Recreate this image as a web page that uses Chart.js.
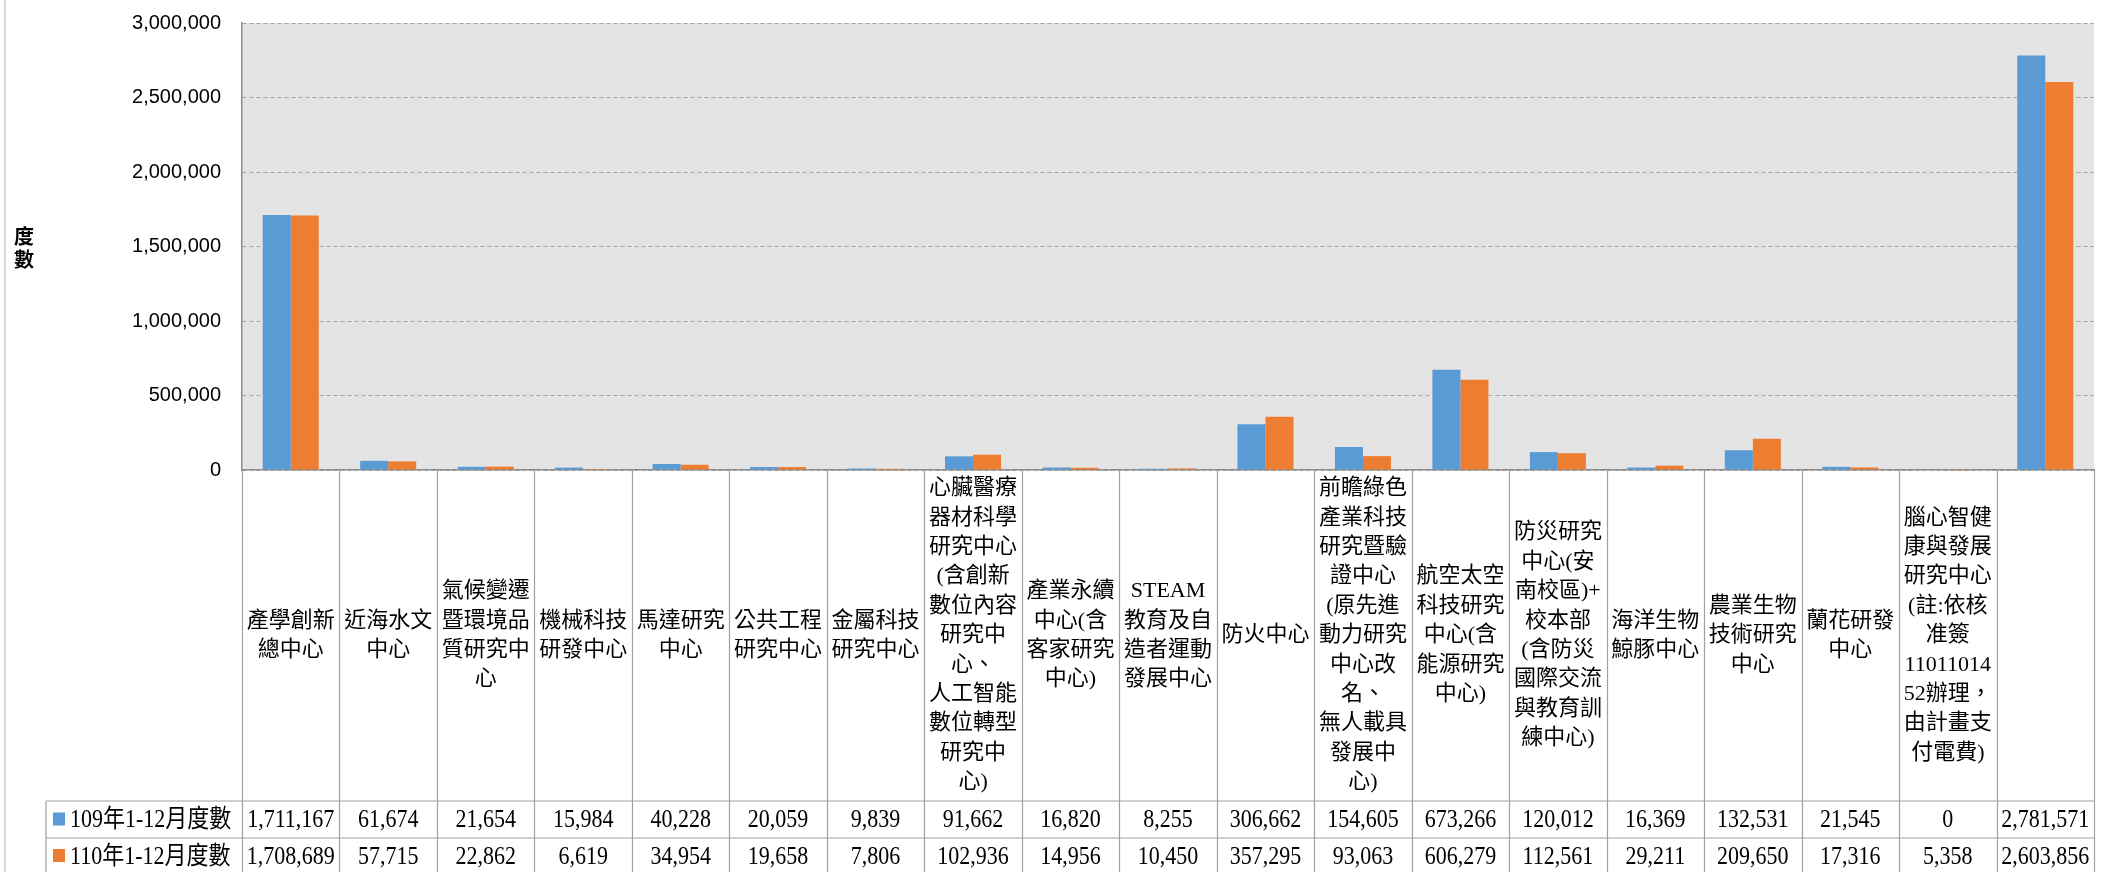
<!DOCTYPE html>
<html>
<head>
<meta charset="utf-8">
<script src="https://cdn.jsdelivr.net/npm/chart.js@4/dist/chart.umd.min.js"></script>
<style>
  html, body { margin: 0; padding: 0; background: #fff; }
  #wrap { width: 2105px; height: 872px; position: relative; }
</style>
</head>
<body>
<div id="wrap"><canvas id="chart" width="2105" height="872"></canvas></div>
<script>
// categories (line breaks as in the data table header)
const categories = [
  '產學創新\n總中心',
  '近海水文\n中心',
  '氣候變遷\n暨環境品\n質研究中\n心',
  '機械科技\n研發中心',
  '馬達研究\n中心',
  '公共工程\n研究中心',
  '金屬科技\n研究中心',
  '心臟醫療\n器材科學\n研究中心\n(含創新\n數位內容\n研究中\n心、\n人工智能\n數位轉型\n研究中\n心)',
  '產業永續\n中心(含\n客家研究\n中心)',
  'STEAM\n教育及自\n造者運動\n發展中心',
  '防火中心',
  '前瞻綠色\n產業科技\n研究暨驗\n證中心\n(原先進\n動力研究\n中心改\n名、\n無人載具\n發展中\n心)',
  '航空太空\n科技研究\n中心(含\n能源研究\n中心)',
  '防災研究\n中心(安\n南校區)+\n校本部\n(含防災\n國際交流\n與教育訓\n練中心)',
  '海洋生物\n鯨豚中心',
  '農業生物\n技術研究\n中心',
  '蘭花研發\n中心',
  '腦心智健\n康與發展\n研究中心\n(註:依核\n准簽\n11011014\n52辦理，\n由計畫支\n付電費)',
  ''
];

const series109Label = '109年1-12月度數';
const series109 = [1711167, 61674, 21654, 15984, 40228, 20059, 9839, 91662, 16820, 8255,
  306662, 154605, 673266, 120012, 16369, 132531, 21545, 0, 2781571];

const series110Label = '110年1-12月度數';
const series110 = [1708689, 57715, 22862, 6619, 34954, 19658, 7806, 102936, 14956, 10450,
  357295, 93063, 606279, 112561, 29211, 209650, 17316, 5358, 2603856];

const yTitle = ['度', '數'];
const yMax = 3000000;
const yStep = 500000;

const BLUE = '#5B9BD5';
const ORANGE = '#ED7D31';
const LINE = '#A0A0A0';

const fmt = (v) => Number(v).toLocaleString('en-US');

// plot background
const bgPlugin = {
  id: 'plotBg',
  beforeDraw(chart) {
    const { ctx, chartArea: a } = chart;
    ctx.save();
    ctx.fillStyle = '#E4E4E4';
    ctx.fillRect(a.left, a.top, a.right - a.left, a.bottom - a.top);
    ctx.restore();
  }
};

// data table under the chart + y title
const tablePlugin = {
  id: 'dataTable',
  afterDraw(chart) {
    const { ctx, chartArea: a } = chart;
    const n = categories.length;
    const colW = (a.right - a.left) / n;
    const H = chart.height;
    const row1 = 801, row2 = 838;
    const legendLeft = 46;

    ctx.save();
    // outer left line of chart object
    ctx.strokeStyle = '#C8C8C8';
    ctx.lineWidth = 1.5;
    ctx.beginPath(); ctx.moveTo(5, 0); ctx.lineTo(5, H); ctx.stroke();

    // grid of the table
    ctx.strokeStyle = LINE;
    ctx.lineWidth = 1.2;
    ctx.beginPath();
    for (let i = 0; i <= n; i++) {
      const x = Math.round(a.left + i * colW) + 0.5;
      ctx.moveTo(x, a.bottom); ctx.lineTo(x, H);
    }
    ctx.moveTo(legendLeft, row1); ctx.lineTo(a.right, row1);
    ctx.moveTo(legendLeft, row2); ctx.lineTo(a.right, row2);
    ctx.moveTo(legendLeft, row1); ctx.lineTo(legendLeft, H);
    ctx.stroke();

    // category headers
    ctx.fillStyle = '#000';
    ctx.textAlign = 'center';
    ctx.textBaseline = 'middle';
    ctx.font = '22px "Liberation Serif", "Noto Sans CJK TC", serif';
    const lh = 29.4;
    const midY = (a.bottom + row1) / 2;
    categories.forEach((c, i) => {
      if (!c) return;
      const lines = c.split('\n');
      const cx = a.left + (i + 0.5) * colW;
      const y0 = midY - (lines.length - 1) * lh / 2;
      lines.forEach((ln, j) => ctx.fillText(ln, cx, y0 + j * lh));
    });

    // values and legend (slightly condensed like the original)
    const sx = 0.88;
    ctx.font = '25px "Liberation Serif", "Noto Sans CJK TC", serif';
    const rows = [
      { label: series109Label, data: series109, color: BLUE, y: (row1 + row2) / 2 + 1 },
      { label: series110Label, data: series110, color: ORANGE, y: row2 + 19 }
    ];
    rows.forEach((r) => {
      r.data.forEach((v, i) => {
        const cx = a.left + (i + 0.5) * colW;
        ctx.save();
        ctx.translate(cx, r.y);
        ctx.scale(sx, 1);
        ctx.textAlign = 'center';
        ctx.fillText(fmt(v), 0, 0);
        ctx.restore();
      });
      ctx.fillStyle = r.color;
      ctx.fillRect(53, r.y - 8, 12, 13);
      ctx.fillStyle = '#000';
      ctx.save();
      ctx.translate(70, r.y);
      ctx.scale(sx, 1);
      ctx.textAlign = 'left';
      ctx.fillText(r.label, 0, 0);
      ctx.restore();
    });

    // y axis title, stacked characters
    ctx.font = 'bold 20px "Noto Sans CJK TC", sans-serif';
    ctx.textAlign = 'center';
    yTitle.forEach((ch, i) => ctx.fillText(ch, 24, 236 + i * 23));
    ctx.restore();
  }
};

new Chart(document.getElementById('chart').getContext('2d'), {
  type: 'bar',
  data: {
    labels: categories,
    datasets: [
      { label: series109Label, data: series109, backgroundColor: BLUE, categoryPercentage: 0.575, barPercentage: 1.0 },
      { label: series110Label, data: series110, backgroundColor: ORANGE, categoryPercentage: 0.575, barPercentage: 1.0 }
    ]
  },
  options: {
    responsive: false,
    animation: false,
    layout: { padding: { left: 0, top: 23, right: 11, bottom: 402 } },
    plugins: { legend: { display: false }, tooltip: { enabled: false } },
    scales: {
      x: {
        ticks: { display: false },
        grid: { display: false, drawTicks: false },
        border: { display: true, color: '#8C8C8C', width: 1.5 },
        afterFit(scale) { scale.height = 0; }
      },
      y: {
        min: 0,
        max: yMax,
        ticks: {
          stepSize: yStep,
          padding: 21,
          color: '#000',
          font: { family: '"Liberation Sans", Arial, sans-serif', size: 20 },
          callback: (v) => fmt(v)
        },
        grid: { color: '#A6A6A6', lineWidth: 1, drawTicks: false },
        border: { display: true, color: '#8C8C8C', width: 1.5, dash: [4, 3] },
        afterFit(scale) {
          scale.width = 242;
          scale.paddingTop = 0;
          scale.paddingBottom = 0;
        }
      }
    }
  },
  plugins: [bgPlugin, tablePlugin]
});
</script>
</body>
</html>
